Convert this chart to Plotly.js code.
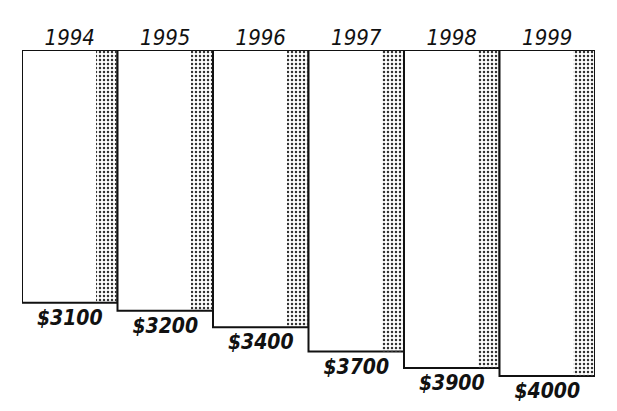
<!DOCTYPE html>
<html>
<head>
<meta charset="utf-8">
<script src="https://cdn.plot.ly/plotly-3.0.1.min.js"></script>
<style>
html,body{margin:0;padding:0;background:#fff;}
#chart{width:617px;height:411px;}
#chart text{font-stretch:condensed;}
</style>
</head>
<body>
<div id="chart"></div>
<script>
const years = ["1994", "1995", "1996", "1997", "1998", "1999"];
const prices = [3100, 3200, 3400, 3700, 3900, 4000];
const priceLabels = ["$3100", "$3200", "$3400", "$3700", "$3900", "$4000"];

const yearFont = {family: "DejaVu Sans", size: 22, color: "#111", style: "italic"};
const valueFont = {family: "DejaVu Sans", size: 21, color: "#111", style: "italic", weight: "bold"};

const bars = {
  type: "bar",
  x: years,
  y: prices,
  width: 1,
  marker: {color: "#ffffff", line: {color: "#111", width: 2}},
  text: priceLabels,
  textposition: "outside",
  cliponaxis: false,
  textfont: valueFont,
  hoverinfo: "x+y"
};

const shade = {
  type: "bar",
  x: years,
  y: prices,
  width: 0.22,
  offset: 0.27,
  marker: {color: "rgba(255,255,255,0)", line: {width: 0},
    pattern: {shape: ".", fgcolor: "#333", bgcolor: "rgba(255,255,255,0)", size: 4, solidity: 0.3}},
  hoverinfo: "skip"
};

const layout = {
  width: 617, height: 411,
  margin: {l: 22, r: 22, t: 50, b: 11},
  paper_bgcolor: "#fff", plot_bgcolor: "#fff",
  showlegend: false,
  barmode: "overlay",
  bargap: 0,
  xaxis: {type: "category", side: "top", range: [-0.5, 5.5], showgrid: false, zeroline: false,
    showline: false, ticks: "", tickfont: yearFont},
  yaxis: {range: [4294, 0], visible: false, showgrid: false, zeroline: false}
};

Plotly.newPlot("chart", [bars, shade], layout, {displayModeBar: false, staticPlot: true});
</script>
</body>
</html>
